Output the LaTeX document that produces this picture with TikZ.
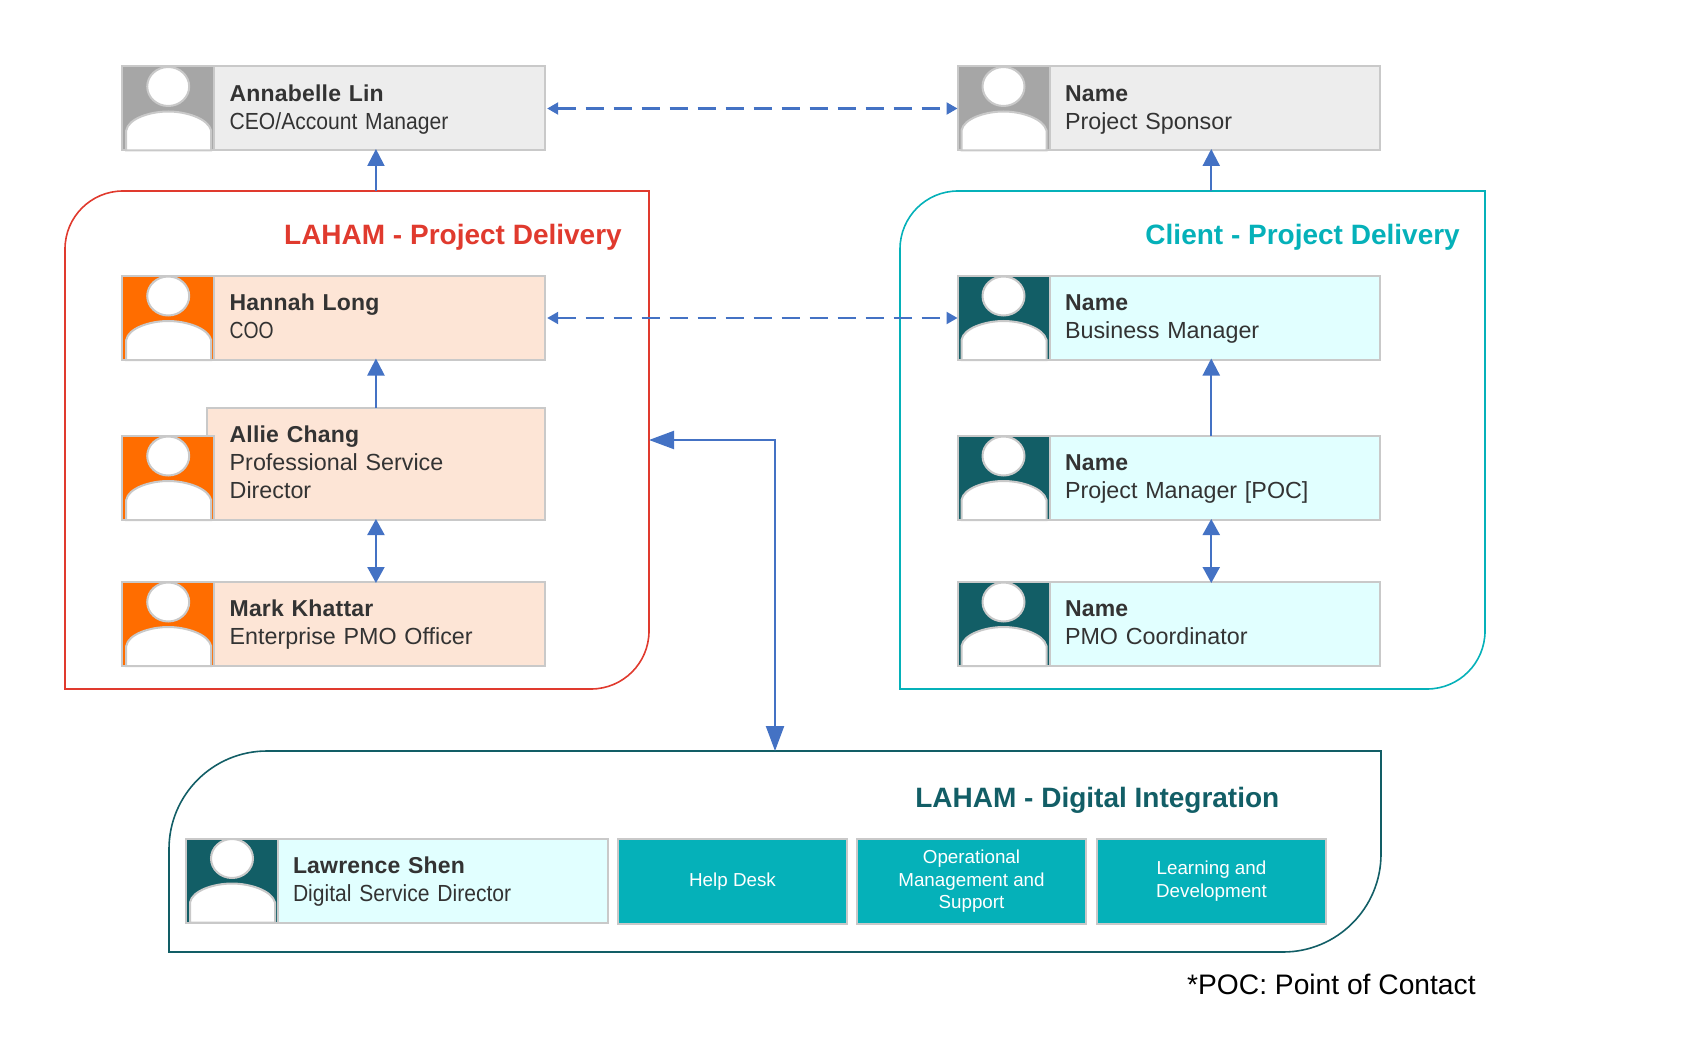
\documentclass[tikz,border=0pt]{standalone}
\usepackage{fontspec}
\usepackage{tikz}
\usetikzlibrary{arrows.meta}
\setmainfont{Liberation Sans}
\newfontfamily\namefont{Liberation Sans}[LetterSpace=0.8]
\newfontfamily\narrowjob{Liberation Sans}[FakeStretch=.905]
\newfontfamily\tightjob{Liberation Sans}[FakeStretch=.83]
\newcommand{\personname}[1]{{\namefont\bfseries\fontsize{23}{28}\selectfont #1}}
\definecolor{cardline}{HTML}{C9C9C9}
\definecolor{cardtext}{HTML}{333333}
\definecolor{greycard}{HTML}{EDEDED}
\definecolor{greypic}{HTML}{A6A6A6}
\definecolor{peachcard}{HTML}{FDE5D6}
\definecolor{orangepic}{HTML}{FF6D00}
\definecolor{cyancard}{HTML}{E1FFFF}
\definecolor{darkteal}{HTML}{125E66}
\definecolor{brightteal}{HTML}{05B1B9}
\definecolor{lahamred}{HTML}{E03A2E}
\definecolor{linkblue}{HTML}{4472C4}
\tikzset{
  card/.style={draw=cardline,line width=2pt,anchor=north west,minimum width=337.5pt,
    inner xsep=22.5pt,inner ysep=0pt,outer sep=0pt,text width=292.5pt,align=left,text=cardtext,
    font=\fontsize{23.3}{28}\selectfont},
  photo/.style={draw=cardline,line width=2pt,anchor=north west,minimum width=92pt,
    minimum height=84pt,inner sep=0pt,outer sep=0pt},
  bust/.style={draw=cardline,line width=2pt,fill=white},
  service/.style={draw=cardline,line width=2pt,fill=brightteal,text=white,anchor=north west,
    minimum width=229pt,minimum height=84.5pt,inner sep=0pt,align=center,
    font=\fontsize{18.8}{22.5}\selectfont},
  region/.style={minimum width=#1,inner sep=0pt,outer sep=0pt},
  heading/.style={anchor=base east,inner sep=0pt,font=\bfseries\fontsize{28}{32}\selectfont},
  link/.style={draw=linkblue,line width=2.2pt},
  up/.style={link,shorten >=-1.5pt,-{Triangle[length=17pt,width=17pt]}},
  both/.style={link,shorten >=-1pt,shorten <=-1pt,{Triangle[length=16pt,width=17pt]}-{Triangle[length=16pt,width=17pt]}},
  peer/.style={link,dash pattern=on 18.5pt off 9.5pt,shorten <=2.5pt,
    {Triangle[length=11pt,width=12pt]}-{Triangle[length=11pt,width=12pt]}},
  big/.style={link,{Triangle[length=25pt,width=18pt]}-{Triangle[length=25pt,width=18pt]}}
}
\begin{document}
\begin{tikzpicture}[x=1pt,y=-1pt]
  \useasboundingbox (0,0) rectangle (1696,1056);
  % frames
  \foreach \nm/\cx/\cy/\fw/\fh/\rad/\col in {laham/357/440/584/498/58/lahamred,
      client/1192.5/440/585/498/58/brightteal,digital/775/851.5/1212/201/98/darkteal}{
    \node[region=\fw pt,minimum height=\fh pt] (\nm) at (\cx,\cy) {};
    \draw[draw=\col,line width=1.6pt] (\nm.west) [rounded corners=\rad pt] -- (\nm.north west)
      [sharp corners] -- (\nm.north east) -- (\nm.east) [rounded corners=\rad pt] -- (\nm.south east)
      [sharp corners] -- (\nm.south west) -- cycle;}
  \node[heading,text=lahamred] (lahamtitle) at (622,245) {LAHAM - Project Delivery};
  \node[heading,text=brightteal] (clienttitle) at (1460,245) {Client - Project Delivery};
  \node[heading,text=darkteal] (digitaltitle) at (1279.5,807) {LAHAM - Digital Integration};
  % people
  \foreach \nm/\x/\y/\bh/\col/\who/\job in {
      annabelle/207.2/66.5/84/greycard/Annabelle Lin/{\narrowjob CEO/Account Manager},
      hannah/207.2/276/84/peachcard/Hannah Long/{\tightjob COO},
      allie/207.2/408/112/peachcard/Allie Chang/{Professional Service\\Director},
      mark/207.2/582/84/peachcard/Mark Khattar/Enterprise PMO Officer,
      sponsor/1042.5/66.5/84/greycard/Name/Project Sponsor,
      business/1042.5/276/84/cyancard/Name/Business Manager,
      manager/1042.5/436/84/cyancard/Name/{Project Manager [POC]},
      coordinator/1042.5/582/84/cyancard/Name/PMO Coordinator,
      lawrence/270.5/838.5/84/cyancard/Lawrence Shen/{\narrowjob Digital Service Director}}{
    \node[card,fill=\col,minimum height=\bh pt] (\nm) at (\x,\y)
      {\rule{0pt}{21.6pt}\personname{\who}\\\job\strut};}
  \foreach \nm/\x/\y/\col in {annabelle/122.2/66.5/greypic,hannah/122.2/276/orangepic,allie/122.2/436/orangepic,
      mark/122.2/582/orangepic,sponsor/957.5/66.5/greypic,business/957.5/276/darkteal,manager/957.5/436/darkteal,
      coordinator/957.5/582/darkteal,lawrence/186/838.5/darkteal}{
    \node[photo,fill=\col] (\nm pic) at (\x,\y) {};
    \draw[bust] (\x+4,\y+84) -- (\x+4,\y+64) .. controls (\x+6,\y+52) and (\x+28,\y+45) .. (\x+46,\y+45)
      .. controls (\x+64,\y+45) and (\x+86,\y+52) .. (\x+89,\y+64) -- (\x+89,\y+84) -- cycle;
    \draw[bust] (\x+46,\y+20) ellipse (21 and 19.5);}
  % service blocks
  \node[service] (helpdesk) at (617,838) {Help Desk};
  \node[service] (operations) at (856,838) {Operational\\Management and\\Support};
  \node[service] (learning) at (1096,838) {Learning and\\Development};
  \node[anchor=base west,inner sep=0pt,font=\fontsize{28.2}{32}\selectfont] (pocnote) at (1187,994) {*POC: Point of Contact};
  % links
  \draw[up] (annabelle |- laham.north) -- (annabelle.south);
  \draw[up] (sponsor |- client.north) -- (sponsor.south);
  \draw[up] (allie.north) -- (hannah.south);
  \draw[up] (manager.north) -- (business.south);
  \draw[both] (allie.south) -- (mark.north);
  \draw[both] (manager.south) -- (coordinator.north);
  \draw[peer] (annabelle.east) -- (sponsorpic.west);
  \draw[peer] (hannah.east) -- (businesspic.west);
  \draw[big] (laham.east) -| (digital.north);
\end{tikzpicture}
\end{document}
